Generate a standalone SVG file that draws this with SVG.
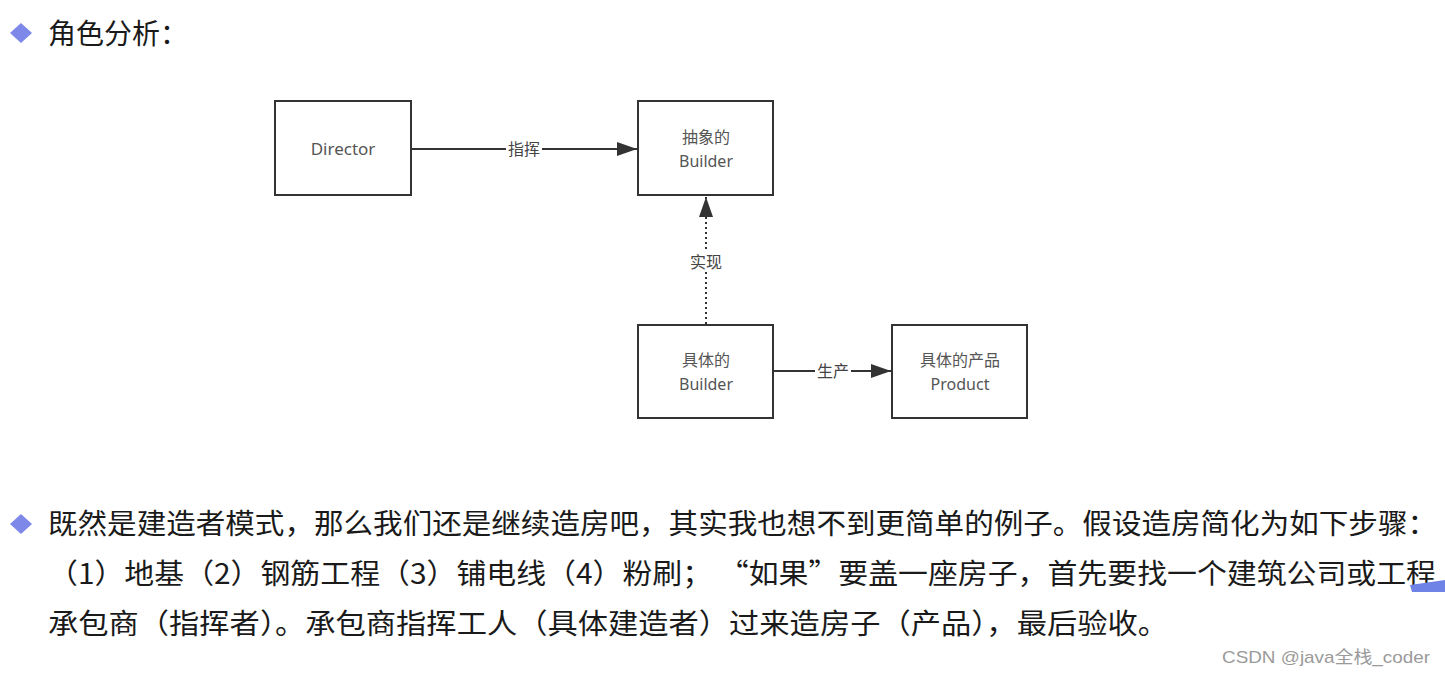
<svg xmlns="http://www.w3.org/2000/svg" width="1445" height="676" viewBox="0 0 1445 676">
<style>
.body{font-family:"Noto Sans CJK SC","Noto Sans",sans-serif;font-size:28px;fill:#1a1a1a}
.box{fill:#fff;stroke:#333;stroke-width:2}
.nt{font-family:"Noto Sans","Noto Sans CJK SC",sans-serif;font-size:17px;fill:#555;text-anchor:middle}
.nt2{font-family:"Noto Sans","Noto Sans CJK SC",sans-serif;font-size:16px;fill:#555;text-anchor:middle}
.lbl{font-family:"Noto Sans CJK SC",sans-serif;font-size:16px;fill:#444;text-anchor:middle}
.edge{stroke:#333;stroke-width:2;fill:none}
.bul{fill:#7d88e8}
</style>
<defs>
<marker id="ah" viewBox="0 0 20 14" refX="20" refY="7" markerWidth="20" markerHeight="14" markerUnits="userSpaceOnUse" orient="auto">
<path d="M0,0 L20,7 L0,14 Z" fill="#333"/>
</marker>
</defs>
<rect width="1445" height="676" fill="#fff"/>

<g id="title">
<path class="bul" d="M21,23 L32,33 L21,43 L10,33 Z"/>
<text class="body" x="48" y="44">角色分析：</text>
</g>

<g id="connectors">
<line class="edge" x1="412" y1="149" x2="637" y2="149" marker-end="url(#ah)"/>
<rect x="506" y="139" width="36" height="20" fill="#fff"/>
<text class="lbl" x="524" y="155">指挥</text>
<line class="edge" x1="706" y1="324" x2="706" y2="197" stroke-dasharray="2 3" marker-end="url(#ah)"/>
<rect x="688" y="252" width="36" height="20" fill="#fff"/>
<text class="lbl" x="706" y="268">实现</text>
<line class="edge" x1="774" y1="371" x2="891" y2="371" marker-end="url(#ah)"/>
<rect x="815" y="361" width="36" height="20" fill="#fff"/>
<text class="lbl" x="833" y="377">生产</text>
</g>

<g id="director">
<rect class="box" x="275" y="101" width="136" height="94"/>
<text class="nt" x="343" y="155">Director</text>
</g>
<g id="abstract-builder">
<rect class="box" x="638" y="101" width="135" height="94"/>
<text class="nt2" x="706" y="143">抽象的</text>
<text class="nt2" x="706" y="167">Builder</text>
</g>
<g id="concrete-builder">
<rect class="box" x="638" y="325" width="135" height="93"/>
<text class="nt2" x="706" y="366">具体的</text>
<text class="nt2" x="706" y="390">Builder</text>
</g>
<g id="product">
<rect class="box" x="892" y="325" width="135" height="93"/>
<text class="nt2" x="960" y="366">具体的产品</text>
<text class="nt2" x="960" y="390">Product</text>
</g>

<g id="paragraph">
<path class="bul" d="M21,514 L32,524 L21,534 L10,524 Z"/>
<text class="body" x="48" y="534" textLength="1389" lengthAdjust="spacingAndGlyphs">既然是建造者模式，那么我们还是继续造房吧，其实我也想不到更简单的例子。假设造房简化为如下步骤：</text>
<text class="body" x="48" y="584" textLength="1388" lengthAdjust="spacingAndGlyphs">（1）地基（2）钢筋工程（3）铺电线（4）粉刷；  “如果”要盖一座房子，首先要找一个建筑公司或工程</text>
<text class="body" x="48" y="634" textLength="1120" lengthAdjust="spacingAndGlyphs">承包商（指挥者）。承包商指挥工人（具体建造者）过来造房子（产品），最后验收。</text>
<path d="M1410,585 L1445,580 L1445,592 L1412,592 Z" fill="#6f82e6"/>
</g>

<g id="watermark">
<text x="1430" y="663" text-anchor="end" font-family="Liberation Sans,'Noto Sans CJK SC',sans-serif" font-size="17" fill="#9a9a9a" textLength="208" lengthAdjust="spacingAndGlyphs">CSDN @java全栈_coder</text>
</g>
</svg>
